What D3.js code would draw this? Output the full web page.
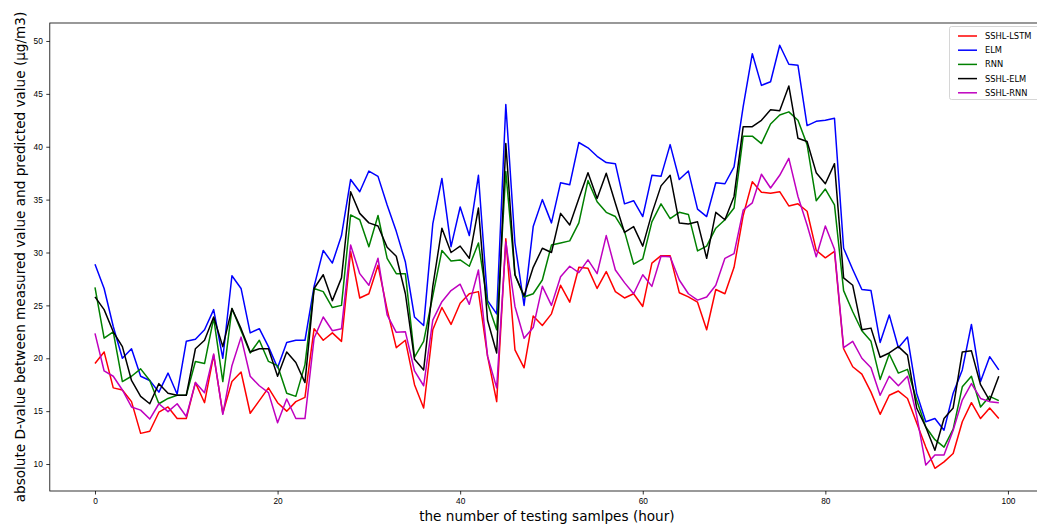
<!DOCTYPE html>
<html lang="en">
<head>
<meta charset="utf-8">
<title>Absolute D-value per testing sample</title>
<script src="https://cdn.jsdelivr.net/npm/d3@7"></script>
<style>
  body { margin: 0; background: #fff; }
  svg { display: block; font-family: "DejaVu Sans", sans-serif; }
  .axis path, .axis line { stroke: #000; stroke-width: 0.8; }
  .axis text { font-size: 8.3px; fill: #000; }
  .series { fill: none; stroke-width: 1.5; stroke-linejoin: round; }
  .label { font-size: 13.6px; fill: #000; }
  .legend text { font-size: 8.3px; fill: #000; }
</style>
</head>
<body>
<script>
// ---- data ----
var sampleIndex = d3.range(0, 100);
var xTicks = [0, 20, 40, 60, 80, 100];
var yTicks = [10, 15, 20, 25, 30, 35, 40, 45, 50];
var seriesNames = ["SSHL-LSTM", "ELM", "RNN", "SSHL-ELM", "SSHL-RNN"];
var seriesColors = ["#ff0000", "#0000ff", "#008000", "#000000", "#bf00bf"];

var sshlLstm = [19.5,20.6,17.2,17.0,15.9,12.9,13.1,14.9,15.4,14.3,
  14.3,17.7,15.8,20.3,14.8,17.8,18.7,14.8,16.0,17.2,
  15.8,15.0,15.9,16.3,22.8,21.7,22.4,21.6,30.1,25.7,
  26.1,28.8,24.6,21.0,21.7,17.5,15.3,22.7,24.8,23.2,
  25.2,26.1,26.3,20.2,15.9,31.3,20.8,19.1,24.0,23.1,
  24.2,26.9,25.3,28.6,28.5,26.6,28.2,26.3,25.7,26.1,
  24.9,29.0,29.7,29.7,26.2,25.8,25.3,22.7,26.5,26.1,
  28.6,33.5,36.7,35.7,35.6,35.75,34.4,34.6,33.9,30.2,
  29.5,30.1,20.9,19.2,18.5,16.8,14.7,16.5,16.9,16.2,
  13.9,11.6,9.6,10.2,11.0,14.0,15.8,14.3,15.3,14.3];

var elm = [28.9,26.6,23.0,20.0,20.9,18.3,17.9,16.8,18.6,16.6,
  21.6,21.8,22.7,24.6,20.0,27.8,26.6,22.4,22.8,21.1,
  19.1,21.5,21.7,21.7,26.8,30.2,29.0,31.6,36.9,35.75,
  37.7,37.2,34.5,32.0,29.1,23.9,23.1,32.7,37.0,30.55,
  34.3,31.6,37.3,25.45,24.2,44.0,30.9,25.0,32.45,35.0,
  32.8,36.6,36.4,40.4,39.9,39.1,38.5,38.4,34.6,34.9,
  33.4,37.3,37.2,40.2,36.9,37.7,34.1,33.4,36.6,36.5,
  38.1,43.8,48.8,45.8,46.15,49.6,47.8,47.7,42.0,42.4,
  42.5,42.7,30.4,28.4,26.5,26.4,21.5,24.1,21.0,22.0,
  16.7,14.0,14.3,13.2,16.7,18.9,23.2,17.8,20.15,18.9];

var rnn = [26.7,21.9,22.5,17.8,18.3,19.0,17.9,15.7,16.2,16.5,
  16.5,19.7,19.5,23.8,17.8,24.7,22.6,20.5,21.7,19.7,
  19.3,16.7,16.4,19.4,26.6,26.3,24.8,25.0,33.55,33.1,
  30.55,33.5,29.45,28.0,28.0,20.1,21.6,25.9,30.2,29.2,
  29.3,28.7,30.9,25.2,22.7,37.65,27.9,25.8,26.1,27.4,
  30.7,30.9,31.1,32.8,36.8,34.8,33.8,33.4,32.0,28.9,
  29.4,32.9,34.6,33.2,33.8,33.6,30.15,30.6,32.3,33.1,
  34.2,41.0,41.0,40.3,42.15,43.0,43.3,42.5,40.2,34.9,
  36.0,34.5,26.4,24.4,22.6,21.6,18.0,20.4,18.6,18.95,
  16.05,13.5,12.3,11.6,13.3,17.3,18.3,15.4,16.4,16.0];

var sshlElm = [25.8,24.6,22.5,21.1,17.9,16.4,15.7,17.6,16.7,16.5,
  16.5,20.9,21.7,23.9,21.1,24.7,22.8,20.6,20.9,20.9,
  18.3,20.6,19.6,17.7,26.6,27.9,25.45,27.6,35.75,33.7,
  32.8,32.5,30.5,29.65,26.1,19.9,18.9,26.8,32.3,30.0,
  30.6,29.45,34.2,23.6,20.5,40.3,27.9,25.9,28.6,30.4,
  30.0,33.7,32.6,35.1,37.55,35.1,37.5,34.65,31.9,32.45,
  30.6,33.7,36.3,37.3,32.8,32.7,32.9,29.45,33.8,33.1,
  35.3,41.9,41.9,42.5,43.5,43.4,45.75,40.8,40.5,37.55,
  36.5,38.4,27.6,26.9,22.7,22.85,20.1,20.5,21.1,20.3,
  15.3,13.5,11.3,14.3,15.3,20.6,20.7,17.5,16.0,18.3];

var sshlRnn = [22.35,18.8,18.3,17.0,15.4,15.1,14.25,15.7,14.95,15.7,
  14.5,17.7,16.75,20.4,14.7,19.3,22.0,18.3,17.4,16.75,
  13.9,16.15,14.3,14.3,21.9,23.9,22.6,22.8,30.7,28.0,
  26.9,29.45,24.1,22.45,22.5,18.8,17.4,23.6,25.35,26.4,
  27.0,25.1,28.35,20.2,17.2,31.0,24.9,21.9,22.9,26.8,
  25.0,27.7,28.7,28.1,29.3,28.0,31.6,28.35,27.15,26.1,
  27.9,26.8,29.65,29.6,27.4,26.1,25.5,25.8,26.9,29.45,
  29.9,34.0,34.7,37.4,36.1,37.3,38.9,35.3,32.6,29.6,
  32.5,30.3,21.0,21.6,20.0,19.1,16.5,18.3,17.4,18.3,
  14.6,9.9,10.85,10.85,13.2,16.05,17.6,16.2,15.9,15.8];

var seriesValues = [sshlLstm, elm, rnn, sshlElm, sshlRnn];

// ---- svg setup ----
var w = 1037;
var h = 531;
// plot box (the right spine sits just past the picture edge)
var plotLeft = 49.8, plotRight = 1044, plotTop = 23, plotBottom = 491;

var svg = d3.select("body").append("svg")
  .attr("width", w)
  .attr("height", h);

svg.append("rect").attr("width", w).attr("height", h).attr("fill", "#fff");

var scaleX = d3.scaleLinear().domain([-4.95, 103.95]).range([plotLeft, plotRight]);
var scaleY = d3.scaleLinear().domain([7.45, 51.7]).range([plotBottom, plotTop]);

svg.append("clipPath").attr("id", "plotClip")
  .append("rect")
  .attr("x", plotLeft).attr("y", plotTop)
  .attr("width", plotRight - plotLeft).attr("height", plotBottom - plotTop);

// ---- lines ----
var line = d3.line()
  .x(function(d, i) { return scaleX(sampleIndex[i]); })
  .y(function(d) { return scaleY(d); });

var view = svg.append("g").attr("clip-path", "url(#plotClip)");

view.selectAll("path.series")
  .data(seriesValues)
  .enter()
  .append("path")
  .attr("class", "series")
  .attr("stroke", function(d, i) { return seriesColors[i]; })
  .attr("d", line);

// ---- axes ----
var xAxis = d3.axisBottom(scaleX).tickValues(xTicks).tickSize(3.5).tickPadding(3.5);
var yAxis = d3.axisLeft(scaleY).tickValues(yTicks).tickSize(3.5).tickPadding(3.5);

var gX = svg.append("g")
  .attr("class", "axis")
  .attr("transform", "translate(0," + plotBottom + ")")
  .call(xAxis);
gX.select(".domain").remove();

var gY = svg.append("g")
  .attr("class", "axis")
  .attr("transform", "translate(" + plotLeft + ",0)")
  .call(yAxis);
gY.select(".domain").remove();

// spines
svg.append("rect")
  .attr("x", plotLeft).attr("y", plotTop)
  .attr("width", plotRight - plotLeft).attr("height", plotBottom - plotTop)
  .attr("fill", "none")
  .attr("stroke", "#000")
  .attr("stroke-width", 0.8);

// ---- axis titles ----
svg.append("text")
  .attr("class", "label")
  .attr("transform", "translate(20," + ((plotTop + plotBottom) / 2) + ") rotate(-90)")
  .attr("text-anchor", "middle")
  .attr("dy", "0.35em")
  .text("absolute D-value between measured value and predicted value (\u03bcg/m3)");

svg.append("text")
  .attr("class", "label")
  .attr("x", (plotLeft + plotRight) / 2)
  .attr("y", 521)
  .attr("text-anchor", "middle")
  .text("the number of testing samlpes (hour)");

// ---- legend ----
var legend = svg.append("g").attr("class", "legend");

legend.append("rect")
  .attr("x", 949.5).attr("y", 26.5)
  .attr("width", 90).attr("height", 73)
  .attr("rx", 2)
  .attr("fill", "#fff")
  .attr("fill-opacity", 0.8)
  .attr("stroke", "#cccccc")
  .attr("stroke-width", 0.8);

var items = legend.selectAll("g.item")
  .data(seriesNames)
  .enter()
  .append("g")
  .attr("class", "item")
  .attr("transform", function(d, i) { return "translate(958," + (36 + i * 14.2) + ")"; });

items.append("line")
  .attr("x1", 0).attr("x2", 19)
  .attr("stroke", function(d, i) { return seriesColors[i]; })
  .attr("stroke-width", 1.5);

items.append("text")
  .attr("x", 27)
  .attr("dy", "0.35em")
  .text(function(d) { return d; });
</script>
</body>
</html>
